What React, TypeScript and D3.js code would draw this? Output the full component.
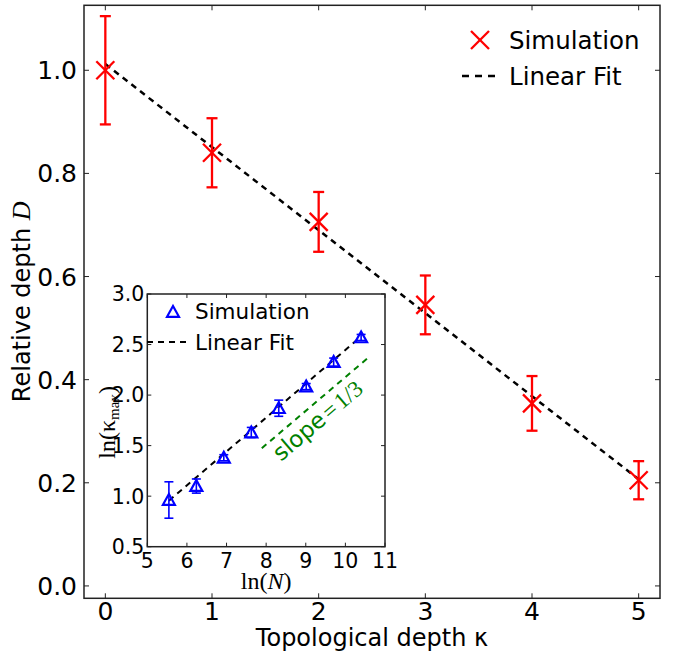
import React from "react";
import * as d3 from "d3";

// Main panel data
const depthK = [0, 1, 2, 3, 4, 5];
const relDepth = [1.0, 0.84, 0.706, 0.545, 0.354, 0.205];
const relDepthErr = [0.105, 0.067, 0.058, 0.057, 0.053, 0.037];
const mainFit = { intercept: 1.012, slope: -0.161 };
const mainXTicks = [0, 1, 2, 3, 4, 5];
const mainYTicks = [0.0, 0.2, 0.4, 0.6, 0.8, 1.0];

// Inset data
const lnN = [5.545, 6.238, 6.931, 7.625, 8.318, 9.011, 9.704, 10.397];
const lnKmax = [0.962, 1.1, 1.38, 1.63, 1.87, 2.084, 2.326, 2.57];
const lnKmaxErr = [0.18, 0.07, 0.03, 0.05, 0.08, 0.03, 0.04, 0.03];
const insetFit = { intercept: -0.903, slope: 0.335 };
const slopeRef = { x0: 7.89, x1: 10.62, intercept: -1.156, slope: 1 / 3 };
const insetXTicks = [5, 6, 7, 8, 9, 10, 11];
const insetYTicks = [0.5, 1.0, 1.5, 2.0, 2.5, 3.0];

const W = 675;
const H = 659;
const M = { left: 84, right: 660, top: 5.3, bottom: 598.3 };
const I = { left: 147.3, right: 385, top: 294, bottom: 546.7 };

const sans = "'DejaVu Sans', sans-serif";
const serif = "'Liberation Serif', 'DejaVu Serif', serif";

export default function App() {
  const x = d3.scaleLinear().domain([-0.2, 5.2]).range([M.left, M.right]);
  const y = d3.scaleLinear().domain([-0.024, 1.126]).range([M.bottom, M.top]);
  const xi = d3.scaleLinear().domain([5, 11]).range([I.left, I.right]);
  const yi = d3.scaleLinear().domain([0.5, 3.0]).range([I.bottom, I.top]);

  const mainLine = d3.line<number>()
    .x((k) => x(k))
    .y((k) => y(mainFit.intercept + mainFit.slope * k));
  const insetLine = d3.line<number>()
    .x((v) => xi(v))
    .y((v) => yi(insetFit.intercept + insetFit.slope * v));
  const refLine = d3.line<number>()
    .x((v) => xi(v))
    .y((v) => yi(slopeRef.intercept + slopeRef.slope * v));

  const red = "#ff0000";
  const blue = "#0000ff";
  const green = "#008000";
  const frame = "#222";
  const tick = 5;
  const tickI = 4;
  const xs = 9;
  const tr = 6;
  const triPath = (cx: number, cy: number) =>
    `M${cx},${cy - tr}L${cx - tr},${cy + tr * 0.8}L${cx + tr},${cy + tr * 0.8}Z`;

  const angle = (Math.atan2(yi(3) - yi(2), xi(3 * 3) - xi(2 * 3)) * 180) / Math.PI;

  return (
    <svg width={W} height={H} style={{ position: "absolute", left: 0, top: 0, background: "#fff" }}>
      <rect x={0} y={0} width={W} height={H} fill="#fff" />
      {/* main fit */}
      <path d={mainLine([depthK[0], depthK[depthK.length - 1]]) || ""} fill="none" stroke="#000" strokeWidth={2.5} strokeDasharray="6,5" />
      {/* main error bars and markers */}
      {depthK.map((k, i) => {
        const cx = x(k);
        const yt = y(relDepth[i] + relDepthErr[i]);
        const yb = y(relDepth[i] - relDepthErr[i]);
        const cy = y(relDepth[i]);
        return (
          <g key={"m" + i} stroke={red} strokeWidth={2.3} fill="none">
            <line x1={cx} x2={cx} y1={yt} y2={yb} />
            <line x1={cx - 5.5} x2={cx + 5.5} y1={yt} y2={yt} />
            <line x1={cx - 5.5} x2={cx + 5.5} y1={yb} y2={yb} />
            <line x1={cx - xs} x2={cx + xs} y1={cy - xs} y2={cy + xs} />
            <line x1={cx - xs} x2={cx + xs} y1={cy + xs} y2={cy - xs} />
          </g>
        );
      })}
      {/* main frame */}
      <rect x={M.left} y={M.top} width={M.right - M.left} height={M.bottom - M.top} fill="none" stroke={frame} strokeWidth={1.5} />
      {mainXTicks.map((t) => (
        <g key={"xt" + t}>
          <line x1={x(t)} x2={x(t)} y1={M.bottom} y2={M.bottom - tick} stroke={frame} strokeWidth={1} />
          <line x1={x(t)} x2={x(t)} y1={M.top} y2={M.top + tick} stroke={frame} strokeWidth={1} />
          <text x={x(t)} y={620} textAnchor="middle" fontFamily={sans} fontSize={25}>{t}</text>
        </g>
      ))}
      {mainYTicks.map((t) => (
        <g key={"yt" + t}>
          <line x1={M.left} x2={M.left + tick} y1={y(t)} y2={y(t)} stroke={frame} strokeWidth={1} />
          <line x1={M.right} x2={M.right - tick} y1={y(t)} y2={y(t)} stroke={frame} strokeWidth={1} />
          <text x={77} y={y(t)} dy="0.36em" textAnchor="end" fontFamily={sans} fontSize={25}>{t.toFixed(1)}</text>
        </g>
      ))}
      <text x={(M.left + M.right) / 2} y={646} textAnchor="middle" fontFamily={sans} fontSize={24}>Topological depth κ</text>
      <text transform={`translate(30,${(M.top + M.bottom) / 2}) rotate(-90)`} textAnchor="middle" fontFamily={sans} fontSize={24}>
        Relative depth <tspan fontFamily={serif} fontStyle="italic" fontSize={26}>D</tspan>
      </text>
      {/* main legend */}
      <g stroke={red} strokeWidth={2.3}>
        <line x1={480 - xs} x2={480 + xs} y1={40 - xs} y2={40 + xs} />
        <line x1={480 - xs} x2={480 + xs} y1={40 + xs} y2={40 - xs} />
      </g>
      <text x={509} y={40} dy="0.36em" fontFamily={sans} fontSize={24.5}>Simulation</text>
      <line x1={462} x2={499} y1={76} y2={76} stroke="#000" strokeWidth={2.5} strokeDasharray="7,6" />
      <text x={509} y={76} dy="0.36em" fontFamily={sans} fontSize={24.5}>Linear Fit</text>

      {/* inset */}
      <rect x={I.left} y={I.top} width={I.right - I.left} height={I.bottom - I.top} fill="#fff" stroke="none" />
      <path d={insetLine([lnN[0], lnN[lnN.length - 1]]) || ""} fill="none" stroke="#000" strokeWidth={2} strokeDasharray="6,5" />
      <path d={refLine([slopeRef.x0, slopeRef.x1]) || ""} fill="none" stroke={green} strokeWidth={2} strokeDasharray="6,5" />
      <text transform={`translate(281,462) rotate(${angle})`} fill={green} fontSize={23}>
        <tspan fontFamily={sans}>slope</tspan>
        <tspan fontFamily={serif} dx={3}>=</tspan>
        <tspan fontFamily={serif} dx={3}>1/3</tspan>
      </text>
      {lnN.map((v, i) => {
        const cx = xi(v);
        const cy = yi(lnKmax[i]);
        const yt = yi(lnKmax[i] + lnKmaxErr[i]);
        const yb = yi(lnKmax[i] - lnKmaxErr[i]);
        return (
          <g key={"i" + i} stroke={blue} fill="none">
            <line x1={cx} x2={cx} y1={yt} y2={yb} strokeWidth={1.6} />
            <line x1={cx - 4.5} x2={cx + 4.5} y1={yt} y2={yt} strokeWidth={1.6} />
            <line x1={cx - 4.5} x2={cx + 4.5} y1={yb} y2={yb} strokeWidth={1.6} />
            <path d={triPath(cx, cy)} strokeWidth={2.2} fill="none" />
          </g>
        );
      })}
      <rect x={I.left} y={I.top} width={I.right - I.left} height={I.bottom - I.top} fill="none" stroke={frame} strokeWidth={1.5} />
      {insetXTicks.map((t) => (
        <g key={"ixt" + t}>
          <line x1={xi(t)} x2={xi(t)} y1={I.bottom} y2={I.bottom - tickI} stroke={frame} strokeWidth={1} />
          <line x1={xi(t)} x2={xi(t)} y1={I.top} y2={I.top + tickI} stroke={frame} strokeWidth={1} />
          <text x={xi(t)} y={I.bottom + 21} textAnchor="middle" fontFamily={sans} fontSize={20.5}>{t}</text>
        </g>
      ))}
      {insetYTicks.map((t) => (
        <g key={"iyt" + t}>
          <line x1={I.left} x2={I.left + tickI} y1={yi(t)} y2={yi(t)} stroke={frame} strokeWidth={1} />
          <line x1={I.right} x2={I.right - tickI} y1={yi(t)} y2={yi(t)} stroke={frame} strokeWidth={1} />
          <text x={I.left - 3} y={yi(t)} dy="0.36em" textAnchor="end" fontFamily={sans} fontSize={20.5}>{t.toFixed(1)}</text>
        </g>
      ))}
      <text x={(I.left + I.right) / 2} y={589} textAnchor="middle" fontFamily={serif} fontSize={24}>
        ln(<tspan fontStyle="italic">N</tspan>)
      </text>
      <text transform={`translate(115,${(I.top + I.bottom) / 2 + 2}) rotate(-90)`} textAnchor="middle" fontFamily={serif} fontSize={24}>
        ln(κ<tspan fontSize={15} dy={4}>max</tspan><tspan dy={-4}>)</tspan>
      </text>
      {/* inset legend */}
      <path d={triPath(173, 312)} stroke={blue} strokeWidth={2.2} fill="none" />
      <text x={195} y={311} dy="0.36em" fontFamily={sans} fontSize={21.5}>Simulation</text>
      <line x1={147} x2={190} y1={342} y2={342} stroke="#000" strokeWidth={2} strokeDasharray="6,5" />
      <text x={195} y={342} dy="0.36em" fontFamily={sans} fontSize={21.5}>Linear Fit</text>
    </svg>
  );
}
